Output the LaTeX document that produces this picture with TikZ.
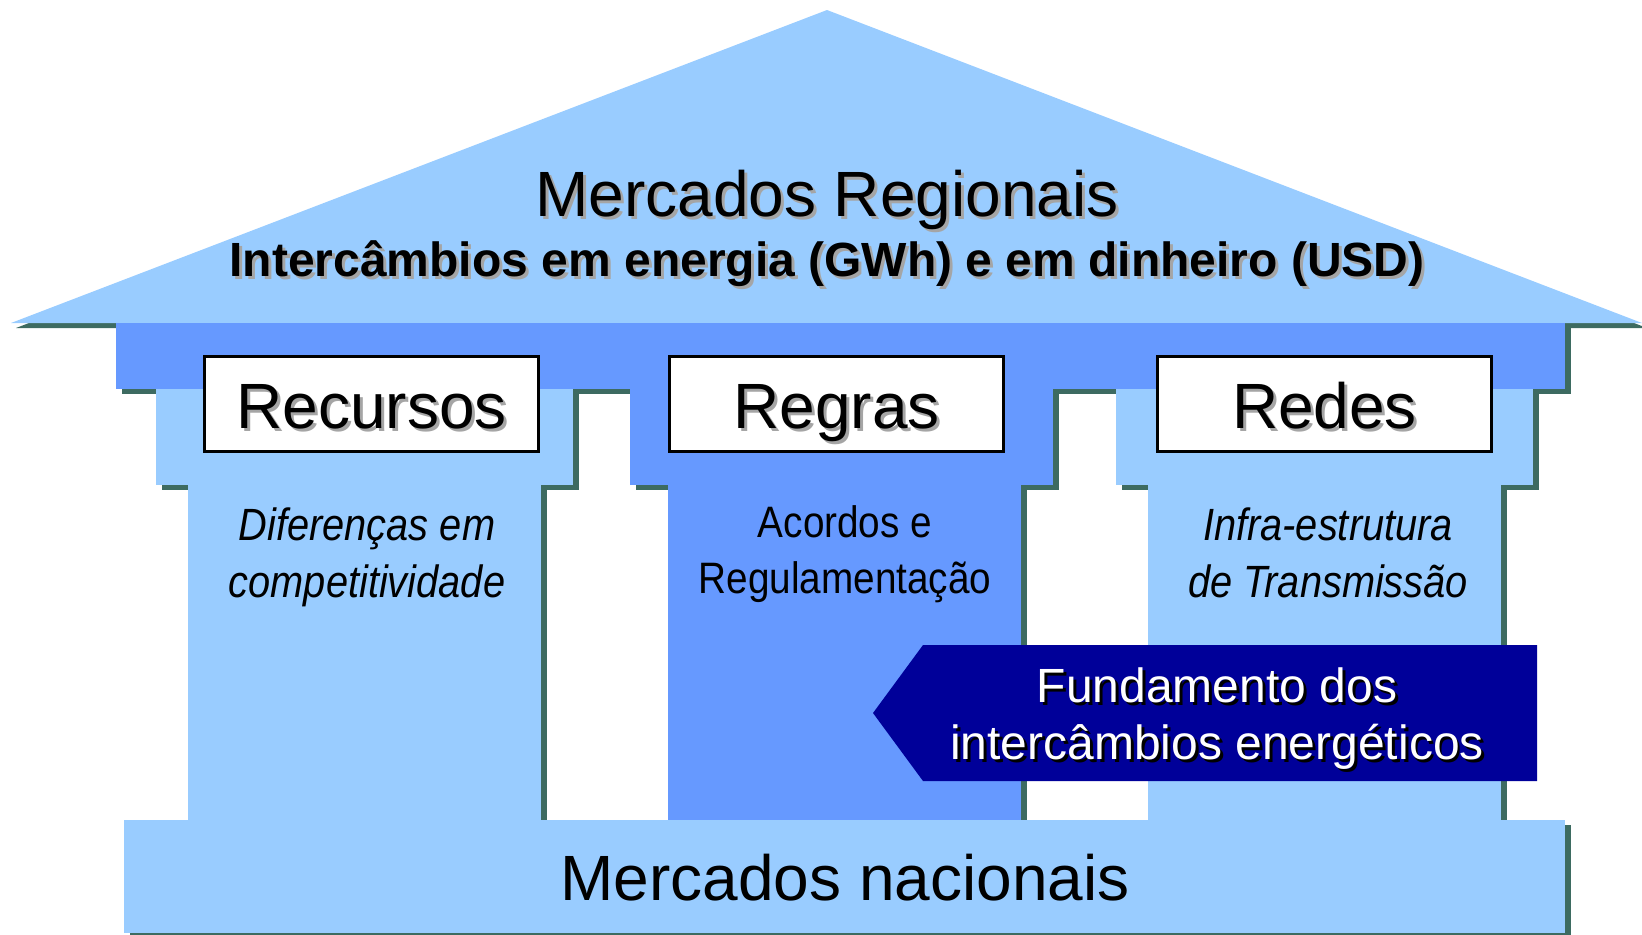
\documentclass[tikz,border=0pt]{standalone}
\usepackage{fontspec}
\setmainfont{Liberation Sans}
\newfontfamily\narrowfont[FakeStretch=0.88]{Liberation Sans}
\usetikzlibrary{positioning}

\definecolor{roofblue}{RGB}{153,204,255}
\definecolor{beamblue}{RGB}{102,153,255}
\definecolor{arrowblue}{RGB}{0,0,153}
\definecolor{shadowgreen}{RGB}{61,107,97}
\definecolor{glyphshadow}{RGB}{165,165,165}

% text with a cast shadow: style, name, position, shadow colour, text
\newcommand{\castnode}[5]{%
  \node[#1, text=#4, xshift=1.5pt, yshift=-1.5pt] at (#3) {#5};
  \node[#1] (#2) at (#3) {#5};
}

\tikzset{
  pillarshadow/.style={fill=shadowgreen, xshift=3pt, yshift=-2.5pt},
  namebox/.style={draw=black, line width=1.5pt, fill=white,
    minimum width=167pt, minimum height=47.5pt, inner sep=0pt},
  bigtext/.style={font=\fontsize{32}{38}\selectfont, inner sep=0pt},
  boxtext/.style={bigtext, text height=24pt, text depth=0pt},
  subtext/.style={font=\bfseries\fontsize{24}{28}\selectfont, inner sep=0pt},
  coltext/.style={font=\narrowfont\fontsize{22}{28}\selectfont, align=center, inner sep=0pt, anchor=base},
  colitalic/.style={coltext, font=\narrowfont\itshape\fontsize{22.6}{28.5}\selectfont},
  arrowtext/.style={font=\fontsize{24}{28.5}\selectfont, text=white, align=center, inner sep=0pt, anchor=base}
}

\begin{document}
\begin{tikzpicture}[x=0.5pt, y=-0.5pt]
  \useasboundingbox (0,0) rectangle (1642,934);

  % shadows
  \fill[shadowgreen] (29,323) -- (16,328) -- (1647,328) -- (1634,323) -- cycle;
  \foreach \xa/\ya/\xb/\yb in {116/323/1565/389, 156/389/573/485, 630/389/1053/485,
      1116/389/1533/485, 188/485/541/820, 668/485/1021/820, 1148/485/1501/820, 124/820/1565/933}
    \fill[pillarshadow] (\xa,\ya) rectangle (\xb,\yb);

  % roof, beam, capitals, columns, base
  \fill[roofblue] (11,323) -- (827,10) -- (1642,323) -- cycle;
  \foreach \xa/\ya/\xb/\yb/\tone in {116/323/1565/389/beamblue, 156/389/573/485/roofblue,
      630/389/1053/485/beamblue, 1116/389/1533/485/roofblue, 188/485/541/820/roofblue,
      668/485/1021/820/beamblue, 1148/485/1501/820/roofblue, 124/820/1565/933/roofblue}
    \fill[fill=\tone] (\xa,\ya) rectangle (\xb,\yb);

  \castnode{bigtext, anchor=base}{regional}{827,216}{glyphshadow}{Mercados Regionais}
  \castnode{subtext, anchor=base}{exchanges}{827,276}{glyphshadow}{Intercâmbios em energia (GWh) e em dinheiro (USD)}

  \node[namebox] (recursos) at (371.5,404) {};
  \node[namebox] (regras) at (836.5,404) {};
  \node[namebox] (redes) at (1324.5,404) {};
  \castnode{boxtext}{recursostext}{recursos.center}{glyphshadow}{Recursos}
  \castnode{boxtext}{regrastext}{regras.center}{glyphshadow}{Regras}
  \castnode{boxtext}{redestext}{redes.center}{glyphshadow}{Redes}

  % last line on the given baseline
  \node[colitalic] (diferencas) at (367,597) {Diferenças em\\competitividade};
  \node[coltext] (acordos) at (845,593) {Acordos e\\Regulamentação};
  \node[colitalic] (infra) at (1328,597) {Infra-estrutura\\de Transmissão};

  \fill[arrowblue] (873,713) -- (923,645) -- (1537,645) -- (1537,781) -- (923,781) -- cycle;
  \castnode{arrowtext}{fundamento}{1217,759}{black}{Fundamento dos\\intercâmbios energéticos}

  \node[bigtext, anchor=base] (nacionais) at (845,900) {Mercados nacionais};
\end{tikzpicture}
\end{document}
